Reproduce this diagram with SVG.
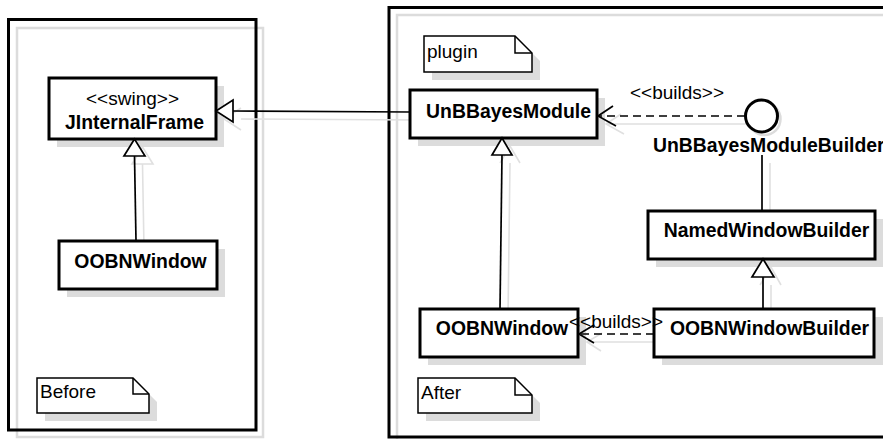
<svg xmlns="http://www.w3.org/2000/svg" width="883" height="439" viewBox="0 0 883 439">
<style>
.frame{fill:none;stroke:#000;stroke-width:3}
.fshadow{fill:none;stroke:#dcdcdc;stroke-width:2.5}
.box{fill:#fff;stroke:#000;stroke-width:3}
.shadow{fill:#dcdcdc;stroke:none}
.note{fill:#fff;stroke:#000;stroke-width:1.5}
.fold{fill:none;stroke:#000;stroke-width:1.5}
.line{fill:none;stroke:#000;stroke-width:1.7}
.dash{fill:none;stroke:#000;stroke-width:1.7;stroke-dasharray:8 5}
.tri{fill:#fff;stroke:#000;stroke-width:1.7}
.cshadow{fill:none;stroke:#e0e0e0;stroke-width:1.6}
.b{font-family:"Liberation Sans",Arial,sans-serif;font-weight:bold;font-size:19.4px;fill:#000}
.r{font-family:"Liberation Sans",Arial,sans-serif;font-size:19px;fill:#000}
</style>
<rect width="883" height="439" fill="#fff"/>
<g id="frame-before">
<rect class="fshadow" x="17" y="28" width="246" height="409"/>
<rect class="frame" x="8.5" y="19.5" width="247.5" height="410.5"/>
</g>
<g id="frame-after">
<rect class="fshadow" x="397" y="15" width="500" height="440"/>
<rect class="frame" x="389" y="7.5" width="505" height="429.5"/>
</g>
<g id="connector-shadows">
<path class="cshadow" d="M144,249 L142.5,164 M132,164 L142.5,147 L153,164 Z"/>
<path class="cshadow" d="M241,119 L418,120 M241,108 L224,119 L241,130"/>
<path class="cshadow" d="M508,317 L510,163 M500,163 L510,146 L520,163"/>
<path class="cshadow" d="M606,124 L753,124 M621,114 L606,124 L624,134"/>
<path class="cshadow" d="M770,163 L770,219"/>
<path class="cshadow" d="M771,285 L771,317 M760,285 L771,267 L781,285"/>
<path class="cshadow" d="M587,342 L662,342 M602,333 L587,342 L601,351"/>
</g>
<g id="JInternalFrame">
<rect class="shadow" x="57" y="86" width="167" height="61"/>
<rect class="box" x="49" y="78" width="167" height="61"/>
<text class="r" x="132.5" y="105" text-anchor="middle">&lt;&lt;swing&gt;&gt;</text>
<text class="b" x="134.5" y="129" text-anchor="middle">JInternalFrame</text>
</g>
<g id="OOBNWindow-before">
<rect class="shadow" x="67" y="249" width="158" height="48"/>
<rect class="box" x="59" y="241" width="158" height="48"/>
<text class="b" x="140.5" y="268" text-anchor="middle">OOBNWindow</text>
</g>
<g id="note-before">
<path class="shadow" d="M45,386 L141,386 L157,402 L157,421 L45,421 Z"/>
<path class="note" d="M37,378 L133,378 L149,394 L149,413 L37,413 Z"/>
<path class="fold" d="M133,378 L133,394 L149,394"/>
<text class="r" x="40" y="398">Before</text>
</g>
<g id="note-plugin">
<path class="shadow" d="M432,44 L523,44 L540,61 L540,80 L432,80 Z"/>
<path class="note" d="M424,36 L515,36 L532,53 L532,72 L424,72 Z"/>
<path class="fold" d="M515,36 L515,53 L532,53"/>
<text class="r" x="427" y="58">plugin</text>
</g>
<g id="UnBBayesModule">
<rect class="shadow" x="418" y="98" width="187" height="48"/>
<rect class="box" x="410" y="90" width="187" height="48"/>
<text class="b" x="508.5" y="118" text-anchor="middle">UnBBayesModule</text>
</g>
<g id="UnBBayesModuleBuilder">
<circle cx="764.5" cy="119" r="16" fill="none" stroke="#dcdcdc" stroke-width="2.5"/>
<circle cx="761.5" cy="116" r="16" fill="#fff" stroke="#000" stroke-width="3"/>
<text class="b" x="653" y="152">UnBBayesModuleBuilder</text>
</g>
<g id="NamedWindowBuilder">
<rect class="shadow" x="656" y="219" width="227" height="48"/>
<rect class="box" x="648" y="211" width="227" height="48"/>
<text class="b" x="766.5" y="237" text-anchor="middle">NamedWindowBuilder</text>
</g>
<g id="OOBNWindow-after">
<rect class="shadow" x="428" y="317" width="158" height="48"/>
<rect class="box" x="420" y="309" width="158" height="48"/>
<text class="b" x="502" y="335" text-anchor="middle">OOBNWindow</text>
</g>
<g id="OOBNWindowBuilder">
<rect class="shadow" x="662" y="317" width="221" height="48"/>
<rect class="box" x="654" y="309" width="220" height="48"/>
<text class="b" x="769.5" y="335" text-anchor="middle">OOBNWindowBuilder</text>
</g>
<g id="note-after">
<path class="shadow" d="M426,386 L523,386 L540,403 L540,421 L426,421 Z"/>
<path class="note" d="M418,378 L515,378 L532,395 L532,413 L418,413 Z"/>
<path class="fold" d="M515,378 L515,395 L532,395"/>
<text class="r" x="421" y="399">After</text>
</g>
<g id="connectors">
<path class="line" d="M136,241 L134.5,156"/>
<polygon class="tri" points="134.5,139 124,156 145,156"/>
<path class="line" d="M410,112 L233,111"/>
<polygon class="tri" points="216,111 233,100 233,122"/>
<path class="line" d="M500,309 L502,155"/>
<polygon class="tri" points="502,138 492,155 512,155"/>
<path class="line" d="M763,277 L763,309"/>
<polygon class="tri" points="763,259 752,277 774,277"/>
<path class="line" d="M762,155 L762,211"/>
<path class="dash" d="M745,116 L599,116"/>
<path class="line" d="M613,106 L598,116 L616,126"/>
<text class="r" x="677" y="99" text-anchor="middle">&lt;&lt;builds&gt;&gt;</text>
<path class="dash" d="M654,334 L580,334"/>
<path class="line" d="M594,325 L579,334 L594,343"/>
<text class="r" x="616" y="328" text-anchor="middle">&lt;&lt;builds&gt;&gt;</text>
</g>
</svg>
